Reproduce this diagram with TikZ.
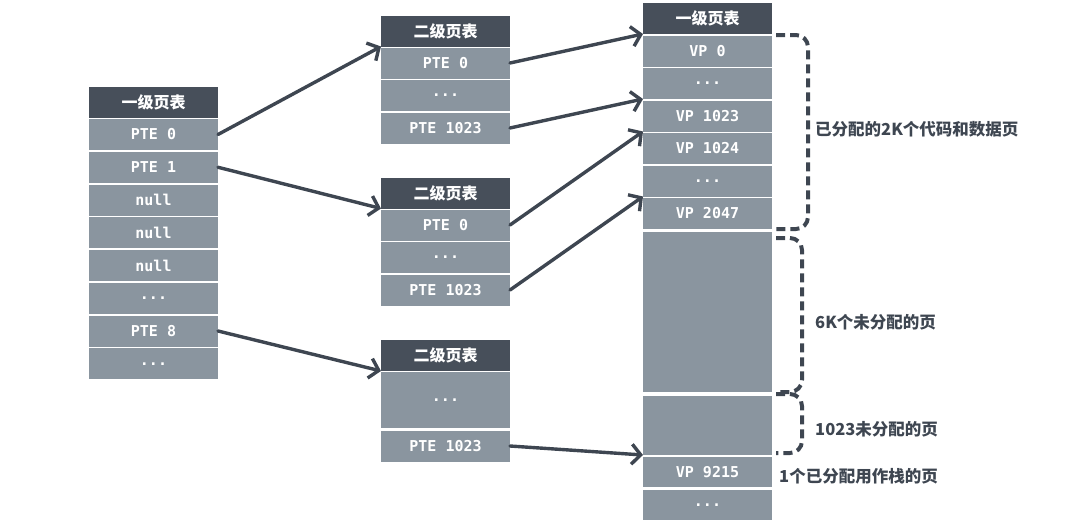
\documentclass[tikz,border=0pt]{standalone}
\usepackage{fontspec}
\setmonofont{DejaVu Sans Mono}
\newfontfamily\cjk{Noto Sans CJK SC}
\usetikzlibrary{arrows.meta}

\definecolor{headgray}{HTML}{474F5A}
\definecolor{rowgray}{HTML}{8A959F}
\definecolor{linegray}{HTML}{3E4651}

\tikzset{
    cell/.style={fill=rowgray,text=white,minimum width=129pt,minimum height=31pt,
        inner sep=0pt,outer sep=0pt,font=\fontsize{15}{15}\selectfont\ttfamily\bfseries},
    headcell/.style={cell,fill=headgray,font=\fontsize{16}{16}\selectfont\cjk\bfseries},
    ptr/.style={-{Straight Barb[length=9pt,width=20pt]},line width=3.4pt,
        draw=linegray,line cap=round},
    brace/.style={draw=linegray,line width=4pt,dash pattern=on 9pt off 5pt,
        rounded corners=12pt},
    note/.style={anchor=west,text=linegray,inner sep=0pt,
        font=\fontsize{16.5}{16.5}\selectfont\cjk\bfseries}
}

\begin{document}
\begin{tikzpicture}[x=1pt,y=-1pt]
        \useasboundingbox (0,0) rectangle (1080,522);
        \def\lx{153.5}
        \def\mx{445.5}
        \def\rx{707.5}

        % first level table
        \node[headcell] (lh) at (\lx,102) {一级页表};
        \node[cell] (l0) at (\lx,134.5) {PTE 0};
        \node[cell] (l1) at (\lx,167.25) {PTE 1};
        \node[cell] (l2) at (\lx,200) {null};
        \node[cell] (l3) at (\lx,232.75) {null};
        \node[cell] (l4) at (\lx,265.5) {null};
        \node[cell] (l5) at (\lx,298.25) {...};
        \node[cell] (l8) at (\lx,331) {PTE 8};
        \node[cell] (l9) at (\lx,363.75) {...};

        % second level tables
        \node[headcell] (ah) at (\mx,31) {二级页表};
        \node[cell] (a0) at (\mx,63) {PTE 0};
        \node[cell] (ad) at (\mx,95.5) {...};
        \node[cell] (ae) at (\mx,128) {PTE 1023};

        \node[headcell] (bh) at (\mx,193) {二级页表};
        \node[cell] (b0) at (\mx,225) {PTE 0};
        \node[cell] (bd) at (\mx,257.5) {...};
        \node[cell] (be) at (\mx,290) {PTE 1023};

        \node[headcell] (ch) at (\mx,355.5) {二级页表};
        \node[cell,minimum height=56pt] (cd) at (\mx,400) {...};
        \node[cell] (ce) at (\mx,446) {PTE 1023};

        % pages
        \node[headcell] (rh) at (\rx,18.5) {一级页表};
        \node[cell] (v0) at (\rx,51) {VP 0};
        \node[cell] (vd) at (\rx,83.5) {...};
        \node[cell] (va) at (\rx,116) {VP 1023};
        \node[cell] (vb) at (\rx,148.5) {VP 1024};
        \node[cell] (ve) at (\rx,181) {...};
        \node[cell] (vc) at (\rx,213.5) {VP 2047};
        \node[cell,minimum height=160pt] (free1) at (\rx,312) {};
        \node[cell,minimum height=59pt] (free2) at (\rx,425.5) {};
        \node[cell,minimum height=30pt] (vs) at (\rx,472) {VP 9215};
        \node[cell,minimum height=30pt] (vz) at (\rx,505) {...};

        % pointers
        \draw[ptr] (l0.east) -- (ah.south west);
        \draw[ptr] (l1.east) -- (bh.south west);
        \draw[ptr] (l8.east) -- (ch.south west);
        \draw[ptr] (a0.east) -- (rh.south west);
        \draw[ptr] (ae.east) -- (vd.south west);
        \draw[ptr] (b0.east) -- (va.south west);
        \draw[ptr] (be.east) -- (ve.south west);
        \draw[ptr] (ce.east) -- (free2.south west);

        % braces
        \draw[brace] (776,35) -- (808,35) -- (808,229) -- (776,229);
        \draw[brace] (776,238) -- (802,238) -- (802,392) -- (776,392);
        \draw[brace] (776,394) -- (802,394) -- (802,453) -- (776,453);

        \node[note] (n1) at (815,129) {已分配的2K个代码和数据页};
        \node[note] (n2) at (815,322) {6K个未分配的页};
        \node[note] (n3) at (815,429) {1023未分配的页};
        \node[note] (n4) at (779,476) {1个已分配用作栈的页};

    \end{tikzpicture}
\end{document}
